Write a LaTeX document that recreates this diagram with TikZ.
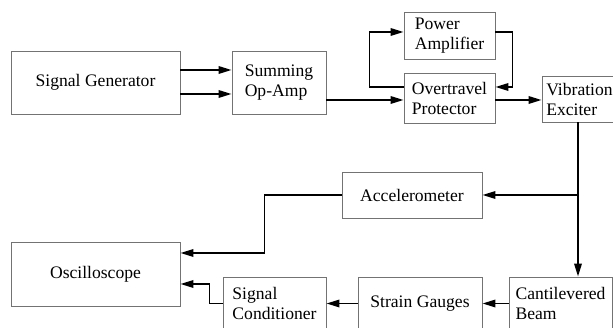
\documentclass[tikz,border=0pt]{standalone}
\usepackage{fontspec}
\setmainfont{Liberation Serif}
\usetikzlibrary{arrows.meta}
\begin{document}
\begin{tikzpicture}[x=1pt,y=-1pt,
  box/.style={draw=black!55, line width=0.9pt, align=left, inner sep=2pt, font=\fontsize{17.6}{20}\selectfont},
  arr/.style={line width=1.8pt, -{Triangle[length=13pt,width=7.5pt]}}]
\useasboundingbox (0,0) rectangle (613,328);
\clip (0,0) rectangle (613,328);
\node[box, minimum width=169pt, minimum height=63pt] (siggen) at (95.5,82.5) {Signal Generator};
\node[box, minimum width=94pt, minimum height=63pt] (summing) at (279,82.5) {Summing\\Op-Amp};
\node[box, minimum width=91pt, minimum height=47pt] (poweramp) at (449.5,35.5) {Power\\Amplifier};
\node[box, minimum width=91pt, minimum height=50pt] (overtravel) at (449.5,98.5) {Overtravel\\Protector};
\node[box, minimum width=75pt, minimum height=46pt] (exciter) at (579.5,99) {Vibration\\Exciter};
\node[box, minimum width=140pt, minimum height=46pt] (accel) at (412,195) {Accelerometer};
\node[box, minimum width=169pt, minimum height=64pt] (scope) at (95.5,274) {Oscilloscope};
\node[box, minimum width=103pt, minimum height=53pt] (sigcond) at (274.5,303.5) {Signal\\Conditioner};
\node[box, minimum width=124pt, minimum height=53pt] (strain) at (420,303.5) {Strain Gauges};
\node[box, minimum width=103pt, minimum height=53pt] (beam) at (560.5,303.5) {Cantilevered\\Beam};
\coordinate (tap) at (578,195);
\draw[arr] ([yshift=12.5pt]siggen.east) -- ([yshift=12.5pt]summing.west);
\draw[arr] ([yshift=-11.5pt]siggen.east) -- ([yshift=-11.5pt]summing.west);
\draw[arr] (summing.east |- 0,100) -- (overtravel.west |- 0,100);
\draw[arr] ([yshift=11.5pt]overtravel.west) -- ++(-34pt,0) |- ([yshift=3.5pt]poweramp.west);
\draw[arr] ([yshift=3.5pt]poweramp.east) -- ++(17pt,0) |- ([yshift=11.5pt]overtravel.east);
\draw[arr] (overtravel.east |- 0,100) -- (exciter.west |- 0,100);
\draw[arr] (exciter.south -| tap) -- (beam.north -| tap);
\draw[arr] (tap) -- (accel.east);
\draw[arr] (accel.west) -- ++(-77pt,0) |- ([yshift=21pt]scope.east);
\draw[arr] (beam.west) -- (strain.east);
\draw[arr] (strain.west) -- (sigcond.east);
\draw[arr] (sigcond.west) -- ++(-13pt,0) |- ([yshift=-10pt]scope.east);
\end{tikzpicture}
\end{document}
